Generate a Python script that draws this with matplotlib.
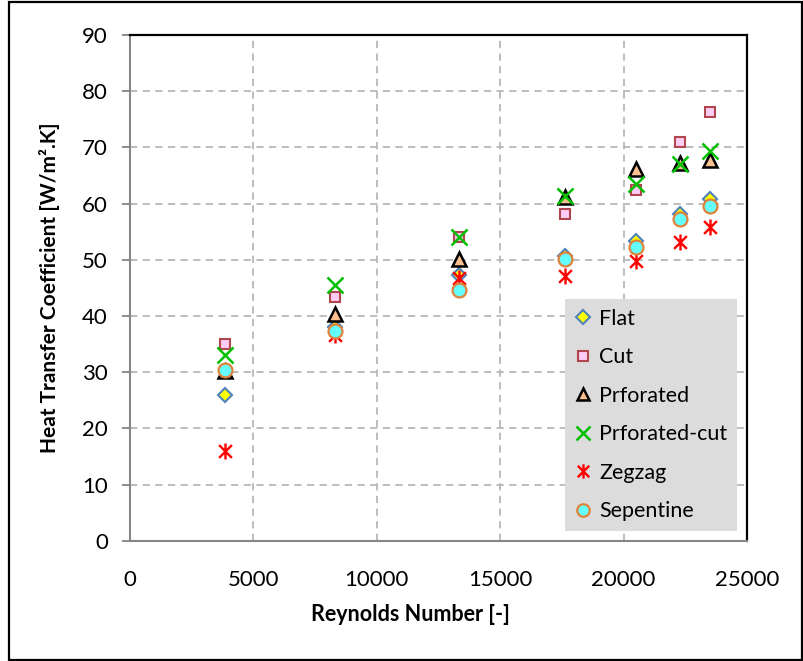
import matplotlib
matplotlib.use("Agg")
import matplotlib.pyplot as plt
from matplotlib.path import Path
from matplotlib.patches import Rectangle

plt.rcParams['font.family'] = ['Lato', 'DejaVu Sans']

# Reynolds numbers of the seven test runs
reynolds = [3840, 8310, 13340, 17640, 20500, 22270, 23500]

# Heat transfer coefficient for each fin type [W/m².K]
flat = [25.9, 38.0, 47.3, 50.6, 53.4, 58.1, 60.8]
cut = [35.0, 43.3, 54.1, 58.1, 62.5, 71.0, 76.3]
prforated = [30.2, 40.4, 50.1, 61.2, 66.2, 67.2, 67.8]
prforated_cut = [33.0, 45.5, 54.1, 61.3, 63.4, 67.0, 69.4]
zegzag = [16.0, 36.6, 46.8, 47.1, 49.7, 53.1, 55.9]
sepentine = [30.4, 37.3, 44.7, 50.1, 52.2, 57.2, 59.6]

# asterisk marker: vertical bar plus diagonal cross
asterisk = Path(
    [(0, -1), (0, 1), (-0.8, -0.8), (0.8, 0.8), (-0.8, 0.8), (0.8, -0.8)],
    [Path.MOVETO, Path.LINETO, Path.MOVETO, Path.LINETO, Path.MOVETO, Path.LINETO],
)

W, H = 804, 661
fig = plt.figure(figsize=(W / 100, H / 100), dpi=100)
ax = fig.add_axes([130 / W, 1 - 540.7 / H, (747 - 130) / W, (540.7 - 35) / H])

# outer chart-area border
fig.patches.append(Rectangle((9 / W, 1 - 660 / H), (802 - 9) / W, (660 - 2) / H,
                             transform=fig.transFigure, fill=False,
                             edgecolor='black', linewidth=1.6, zorder=10))

series = [
    ("Flat", flat, dict(marker='D', ms=7.5, mfc='#ffff00', mec='#4f81bd', mew=1.5)),
    ("Cut", cut, dict(marker='s', ms=7.5, mfc='#ffccf5', mec='#b0474f', mew=1.5)),
    ("Prforated", prforated, dict(marker='^', ms=10, mfc='#fac090', mec='black', mew=1.8)),
    ("Prforated-cut", prforated_cut, dict(marker='x', ms=11, mec='#00c000', mew=1.8)),
    ("Zegzag", zegzag, dict(marker=asterisk, ms=11.5, mfc='none', mec='#ff0000', mew=1.7)),
    ("Sepentine", sepentine, dict(marker='o', ms=10, mfc='#66ffff', mec='#e0823a', mew=1.6)),
]

for i, (name, vals, style) in enumerate(series):
    ax.plot(reynolds, vals, linestyle='none', label=name, zorder=3 + i, **style)

ax.set_xlim(0, 25000)
ax.set_ylim(0, 90)
ax.set_xticks(range(0, 25001, 5000))
ax.set_yticks(range(0, 91, 10))

ax.grid(True, color='#b8b8b8', linestyle=(0, (4, 3)), linewidth=1.3, zorder=0)

for side in ('left', 'bottom'):
    ax.spines[side].set_color('#868686')
    ax.spines[side].set_linewidth(1.5)
for side in ('top', 'right'):
    ax.spines[side].set_color('black')
    ax.spines[side].set_linewidth(1.6)

ax.tick_params(axis='y', length=6, width=1.3, color='#868686', pad=10, labelsize=16)
ax.tick_params(axis='x', length=0, pad=21, labelsize=16)

ax.set_xlabel("Reynolds Number [-]", fontsize=15.5, fontweight='bold')
ax.xaxis.set_label_coords(0.455, -0.125)
ax.set_ylabel("Heat Transfer Coefficient [W/m².K]", fontsize=15, fontweight='bold', labelpad=16)

leg = ax.legend(loc='lower right', bbox_to_anchor=(737 / W, 1 - 531 / H),
                bbox_transform=fig.transFigure, fontsize=15.5, frameon=True,
                fancybox=False, framealpha=1, handlelength=0.8, handletextpad=0.35,
                labelspacing=0.86, borderpad=0.45, borderaxespad=0, numpoints=1,
                markerscale=0.9)
leg.get_frame().set_facecolor('#dcdcdc')
leg.get_frame().set_edgecolor('none')
leg.set_zorder(20)

fig.savefig("out.png", dpi=100)
